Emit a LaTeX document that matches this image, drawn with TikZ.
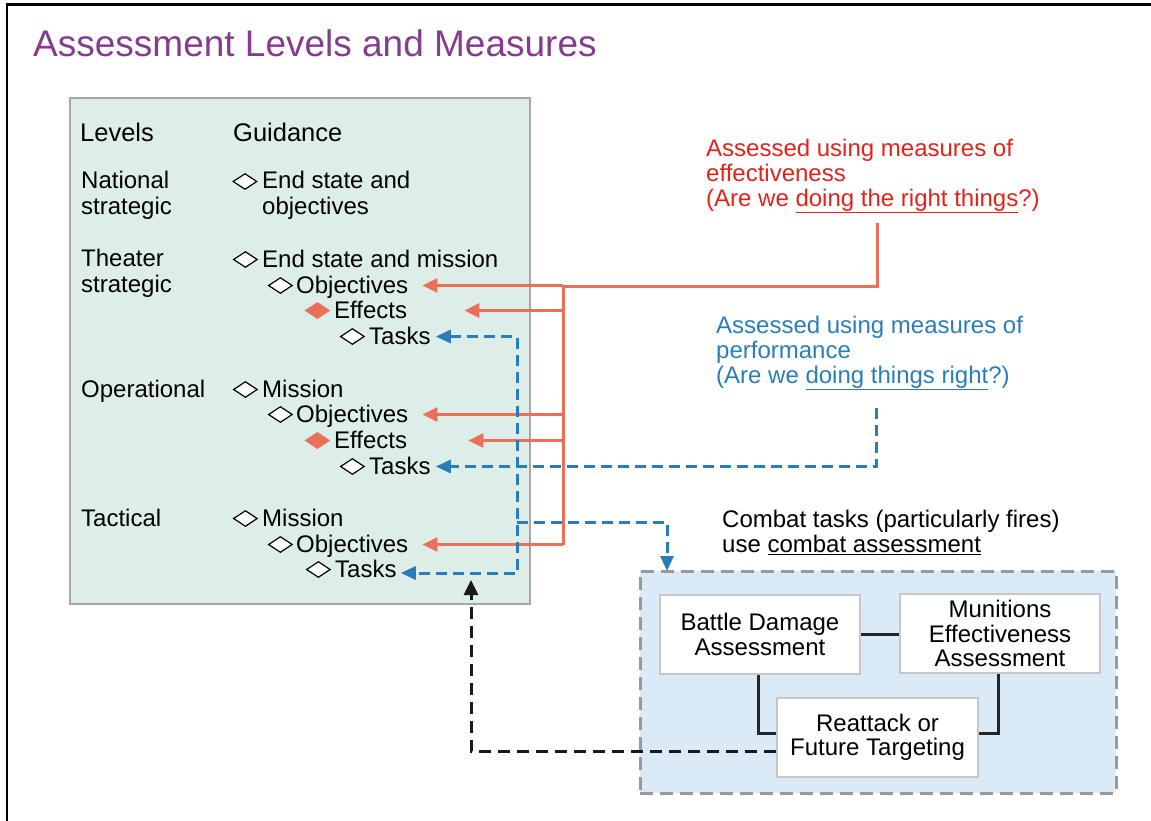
\documentclass[tikz,border=0pt]{standalone}
\usepackage{fontspec}
\setmainfont{Liberation Sans}
\usetikzlibrary{positioning,shapes.geometric,arrows.meta}
\definecolor{titlepurple}{RGB}{133,60,142}
\definecolor{moered}{RGB}{226,35,26}
\definecolor{linered}{RGB}{234,112,90}
\definecolor{mopblue}{RGB}{43,125,186}
\definecolor{lvlgreen}{RGB}{221,238,232}
\definecolor{cbblue}{RGB}{219,234,247}

\begin{document}
\begin{tikzpicture}[x=1pt,y=-1pt,
    font=\fontsize{24}{25}\selectfont,
    txt/.style={anchor=west,inner sep=0pt,text height=19pt,text depth=4pt},
    hdr/.style={txt,font=\fontsize{25.5}{26}\selectfont},
    lvl/.style={anchor=west,inner sep=0pt,align=left,font=\fontsize{24}{26}\selectfont},
    note/.style={anchor=north west,inner sep=0pt,align=left},
    wdiam/.style={diamond,draw=black,fill=white,line width=1.2pt,inner sep=0pt,
        minimum width=24pt,minimum height=16pt},
    rdiam/.style={wdiam,draw=linered,fill=linered},
    redline/.style={draw=linered,line width=3pt},
    redarr/.style={redline,-{Triangle[length=15pt,width=14pt]}},
    bluedash/.style={draw=mopblue,line width=3pt,dash pattern=on 11pt off 6pt},
    bluearr/.style={bluedash,-{Triangle[length=15pt,width=13pt]}},
    blkdash/.style={draw=black!90,line width=3pt,dash pattern=on 12pt off 7pt,
        -{Triangle[length=15pt,width=14pt]}},
    cabox/.style={draw=black!22,line width=1.5pt,fill=white,align=center,
        minimum width=200pt,minimum height=79pt,inner sep=0pt,
        font=\fontsize{24}{24.5}\selectfont},
    conn/.style={draw=black!85,line width=3pt}]
    \useasboundingbox (0,0) rectangle (1151,820);
    \draw[line width=2.5pt] (1160,4.7) -- (7,4.7) -- (7,830);
    \node[anchor=base west,inner sep=0pt,text=titlepurple,font=\fontsize{37}{40}\selectfont]
        (title) at (33,56) {Assessment Levels and Measures};

    % levels and guidance
    \node[draw=black!35,line width=1.2pt,fill=lvlgreen,minimum width=460pt,
        minimum height=506pt,inner sep=0pt] (lvlbox) at (300,351) {};
    \node[hdr] (hlvl) at (80,133.5) {Levels};
    \node[hdr] (hgd) at (233,133.5) {Guidance};

    \node[lvl] (natlvl) at (81,195.75) {National\\strategic};
    \node[lvl] (natgd) at (262,195.75) {End state and\\objectives};
    \node[wdiam] (natd) at (245,181.5) {};

    \node[lvl] (thlvl) at (81,273.75) {Theater\\strategic};
    \node[txt] (thend) at (262,259.5) {End state and mission};
    \node[txt] (thobj) at (296,285.5) {Objectives};
    \node[txt] (theff) at (334,310.5) {Effects};
    \node[txt] (thtask) at (369,336.5) {Tasks};
    \node[wdiam,left=4pt of thend] (thendd) {};
    \node[wdiam,left=3pt of thobj] (thobjd) {};
    \node[rdiam,left=4pt of theff] (theffd) {};
    \node[wdiam,left=4pt of thtask] (thtaskd) {};

    \node[txt] (oplvl) at (81,389.5) {Operational};
    \node[txt] (opmis) at (262,389.5) {Mission};
    \node[txt] (opobj) at (296,414.5) {Objectives};
    \node[txt] (opeff) at (334,440.5) {Effects};
    \node[txt] (optask) at (369,466.5) {Tasks};
    \node[wdiam,left=4pt of opmis] (opmisd) {};
    \node[wdiam,left=3pt of opobj] (opobjd) {};
    \node[rdiam,left=4pt of opeff] (opeffd) {};
    \node[wdiam,left=4pt of optask] (optaskd) {};

    \node[txt] (taclvl) at (81,518.5) {Tactical};
    \node[txt] (tacmis) at (262,518.5) {Mission};
    \node[txt] (tacobj) at (296,544.5) {Objectives};
    \node[txt] (tactask) at (335,569.5) {Tasks};
    \node[wdiam,left=4pt of tacmis] (tacmisd) {};
    \node[wdiam,left=3pt of tacobj] (tacobjd) {};
    \node[wdiam,left=4pt of tactask] (tactaskd) {};

    % notes
    \node[note,text=moered] (moe) at (706,138.5)
        {Assessed using measures of\\effectiveness\\(Are we \underline{doing the right things}?)};
    \node[note,text=mopblue] (mop) at (716,315.5)
        {Assessed using measures of\\performance\\(Are we \underline{doing things right}?)};
    \node[note] (catxt) at (722,509.5)
        {Combat tasks (particularly fires)\\use \underline{combat assessment}};

    % combat assessment
    \node[draw=black!40,line width=3pt,dash pattern=on 13pt off 7pt,fill=cbblue,
        minimum width=476pt,minimum height=222pt,inner sep=0pt] (cbox) at (878,682) {};
    \node[cabox] (bda) at (760,634.5) {Battle Damage\\Assessment};
    \node[cabox] (mea) at (1000,633.5) {Munitions\\Effectiveness\\Assessment};
    \node[cabox,minimum width=201pt] (reatk) at (877.5,737.5) {Reattack or\\Future Targeting};
    \draw[conn] (bda.east) -- (bda.east -| mea.west);
    \draw[conn] ([xshift=-2pt]bda.south) |- ([yshift=4.5pt]reatk.west);
    \draw[conn] ([xshift=-2pt]mea.south) |- ([yshift=4.5pt]reatk.east);

    % measures of effectiveness
    \coordinate (moefoot) at (877,223);
    \coordinate (rj) at (563,286);
    \draw[redline] (moefoot) |- (rj) -- (rj |- tacobj.east);
    \draw[redarr] (rj |- thobj.east) -- ([xshift=14pt]thobj.east);
    \draw[redarr] (rj |- theff.east) -- ([xshift=57pt]theff.east);
    \draw[redarr] (rj |- opobj.east) -- ([xshift=14pt]opobj.east);
    \draw[redarr] (rj |- opeff.east) -- ([xshift=61pt]opeff.east);
    \draw[redarr] (rj |- tacobj.east) -- ([xshift=14pt]tacobj.east);

    % measures of performance
    \coordinate (bj) at (517,450);
    \coordinate (cbj) at (517,522);
    \coordinate (cbin) at (667,571);
    \coordinate (mopfoot) at (876,408);
    \draw[bluedash,{Triangle[length=15pt,width=13pt]}-{Triangle[length=15pt,width=13pt]}]
        ([xshift=5pt]thtask.east) -| (bj) |- ([xshift=4pt,yshift=-3.5pt]tactask.east);
    \draw[bluearr] (cbj) -| (cbin);
    \draw[bluearr] (mopfoot) |- ([xshift=5pt]optask.east);

    \coordinate (blk) at (471,580);
    \draw[blkdash] ([yshift=-13.5pt]reatk.west) -| (blk);
\end{tikzpicture}
\end{document}
